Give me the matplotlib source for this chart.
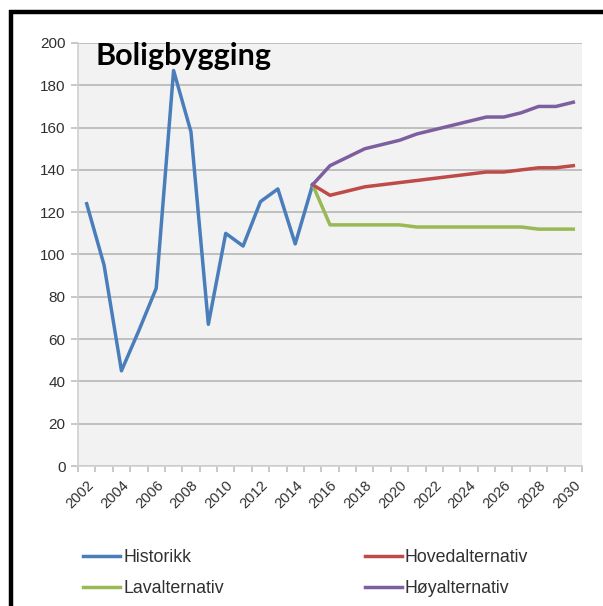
import matplotlib
matplotlib.use("Agg")
import matplotlib.pyplot as plt
from matplotlib.lines import Line2D
import numpy as np

# ---- data ----
hist_years = list(range(2002, 2016))
historikk = [124, 95, 45, 64, 84, 187, 158, 67, 110, 104, 125, 131, 105, 133]

proj_years = list(range(2015, 2031))
hovedalternativ = [133, 128, 130, 132, 133, 134, 135, 136, 137, 138, 139, 139, 140, 141, 141, 142]
lavalternativ = [133, 114, 114, 114, 114, 114, 113, 113, 113, 113, 113, 113, 113, 112, 112, 112]
hoyalternativ = [133, 142, 146, 150, 152, 154, 157, 159, 161, 163, 165, 165, 167, 170, 170, 172]

tick_years = list(range(2002, 2031, 2))
y_ticks = list(range(0, 201, 20))
title = "Boligbygging"
labels = ["Historikk", "Lavalternativ", "Hovedalternativ", "Høyalternativ"]

colors = {"hist": "#4A7EBB", "hoved": "#BE4B48", "lav": "#98B954", "hoy": "#7D5FA0"}

plt.rcParams['font.family'] = ['Liberation Sans', 'DejaVu Sans']

W, H = 603, 606
fig = plt.figure(figsize=(W / 100, H / 100), dpi=100)
fig.patch.set_facecolor("white")

# border lines (cropped screenshot frame)
fig.add_artist(Line2D([10.5 / W, 10.5 / W], [0, 1 - 10 / H], transform=fig.transFigure,
                      color="black", lw=3.2, solid_capstyle="butt"))
fig.add_artist(Line2D([9 / W, 1], [1 - 11.5 / H, 1 - 11.5 / H], transform=fig.transFigure,
                      color="black", lw=3.2, solid_capstyle="butt"))

left, right, top, bottom = 78, 582, 43, 466
ax = fig.add_axes([left / W, 1 - bottom / H, (right - left) / W, (bottom - top) / H])
ax.set_facecolor("#F2F2F2")

lw = 2.5
h_hist, = ax.plot(hist_years, historikk, color=colors["hist"], lw=lw, label=labels[0], zorder=3)
h_lav, = ax.plot(proj_years, lavalternativ, color=colors["lav"], lw=lw, label=labels[1], zorder=3)
h_hov, = ax.plot(proj_years, hovedalternativ, color=colors["hoved"], lw=lw, label=labels[2], zorder=3)
h_hoy, = ax.plot(proj_years, hoyalternativ, color=colors["hoy"], lw=lw, label=labels[3], zorder=3)

ax.set_xlim(2001.5, 2030.5)
ax.set_ylim(0, 200)
ax.set_yticks(y_ticks)
ax.set_yticklabels([str(v) for v in y_ticks], fontsize=11, color="#303030")
ax.grid(axis="y", color="#BFBFBF", lw=1.4)
ax.set_axisbelow(True)

ax.set_xticks(tick_years)
ax.set_xticklabels([str(y) for y in tick_years], rotation=45, ha="right",
                   rotation_mode="anchor", fontsize=10.5, color="#303030")
ax.set_xticks(np.arange(2001.5, 2031, 1.0), minor=True)
ax.tick_params(axis="x", which="major", length=0, pad=9)
ax.tick_params(axis="x", which="minor", length=4, color="#BFBFBF", width=1.2)
ax.tick_params(axis="y", length=5, color="#BFBFBF", width=1.2, pad=4)

for s in ["top", "right"]:
    ax.spines[s].set_visible(False)
ax.spines["left"].set_color("#D0D0D0")
ax.spines["left"].set_linewidth(1.2)
ax.spines["bottom"].set_color("#D0D0D0")
ax.spines["bottom"].set_linewidth(1.2)

ax.text(96 / W, 1 - 56 / H, title, transform=fig.transFigure, fontsize=22,
        fontweight="bold", family=["Lato", "DejaVu Sans"], va="center", ha="left", color="black")

leg_kw = dict(loc="upper left", ncol=1, frameon=False, fontsize=12.8, handlelength=2.1,
              handletextpad=0.15, labelspacing=0.8, borderaxespad=0, borderpad=0)
leg1 = fig.legend([h_hist, h_lav], labels[:2], bbox_to_anchor=(83 / W, 1 - 549 / H), **leg_kw)
leg2 = fig.legend([h_hov, h_hoy], labels[2:], bbox_to_anchor=(365 / W, 1 - 549 / H), **leg_kw)
for leg in (leg1, leg2):
    for t in leg.get_texts():
        t.set_color("#303030")

fig.savefig("out.png", dpi=100)
